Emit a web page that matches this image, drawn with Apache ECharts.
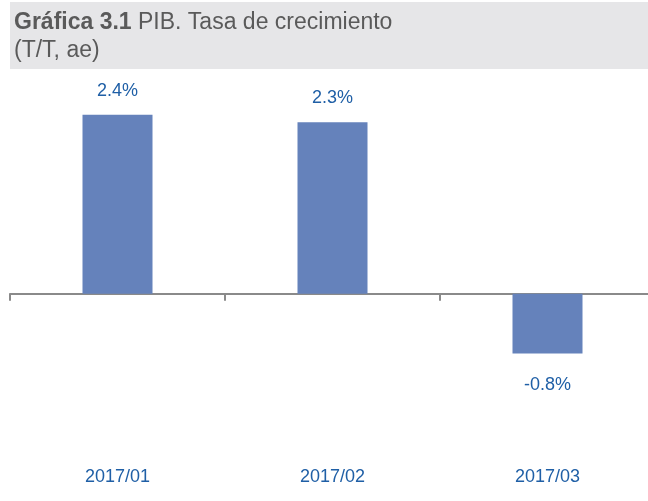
<!DOCTYPE html>
<html>
<head>
<meta charset="utf-8">
<script src="https://cdn.jsdelivr.net/npm/echarts@6/dist/echarts.min.js"></script>
<style>
  html, body { margin: 0; padding: 0; background: #fff; }
  #chart { width: 648px; height: 501px; }
</style>
</head>
<body>
<div id="chart"></div>
<script>
const categories = ['2017/01', '2017/02', '2017/03'];
const growth = [2.4, 2.3, -0.8];

const labelColor = '#1f5fa6';
const font = 'Liberation Sans, Arial, sans-serif';
const chart = echarts.init(document.getElementById('chart'));

// negative bars get their label underneath
const barData = growth.map(v => ({
  value: v,
  label: { position: v < 0 ? 'bottom' : 'top', distance: v < 0 ? 23 : 15 }
}));

const option = {
  animation: false,
  textStyle: { fontFamily: font },
  graphic: [
    { type: 'rect', left: 10, top: 2, shape: { width: 638, height: 67 }, style: { fill: '#e6e6e8' }, z: -1 },
    {
      type: 'text', left: 14, top: 9,
      style: {
        text: '{b|Gráfica 3.1} PIB. Tasa de crecimiento\n(T/T, ae)',
        fill: '#5a5a5a', font: '23px ' + font, lineHeight: 28,
        rich: { b: { fontWeight: 'bold', fontSize: 23, fill: '#5a5a5a', fontFamily: font, lineHeight: 28 } }
      }
    }
  ],
  // the last category runs past the right edge of the picture
  grid: { left: 10, width: 645, top: 70, bottom: 58, outerBoundsMode: 'none', containLabel: false },
  xAxis: [
    {
      type: 'category', data: categories,
      axisLine: { onZero: true, lineStyle: { color: '#8a8a8a', width: 2 } },
      axisTick: { show: true, length: 7, lineStyle: { color: '#8a8a8a', width: 2 } },
      axisLabel: { show: false }
    },
    {
      type: 'category', data: categories, position: 'bottom',
      axisLine: { show: false, onZero: false }, axisTick: { show: false },
      axisLabel: { color: labelColor, fontSize: 18, margin: 25 }
    }
  ],
  yAxis: { type: 'value', min: -2, max: 3, show: false, splitLine: { show: false } },
  series: [{
    type: 'bar', data: barData, barWidth: 70,
    itemStyle: { color: '#6582bb' },
    label: { show: true, color: labelColor, fontSize: 18, formatter: p => p.value.toFixed(1) + '%' }
  }]
};
chart.setOption(option);
</script>
</body>
</html>
